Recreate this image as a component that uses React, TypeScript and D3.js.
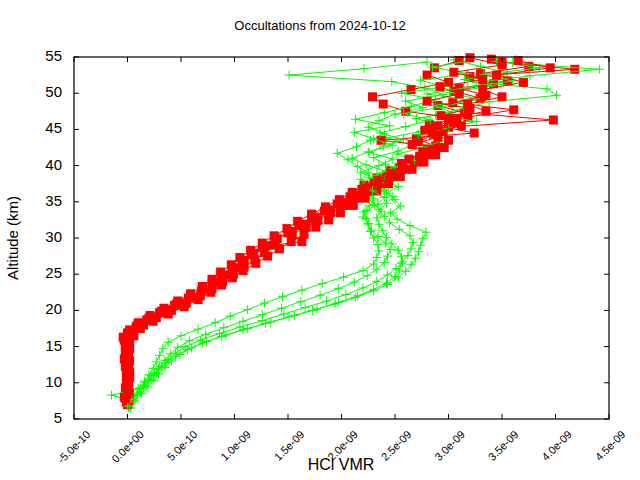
import React from "react";
import * as d3 from "d3";

const W = 640;
const H = 480;
const PLOT = { left: 74, right: 609, top: 57, bottom: 419 };

const TITLE = "Occultations from 2024-10-12";
const X_LABEL = "HCl VMR";
const Y_LABEL = "Altitude (km)";

const X_TICKS = [-5e-10, 0, 5e-10, 1e-9, 1.5e-9, 2e-9, 2.5e-9, 3e-9, 3.5e-9, 4e-9, 4.5e-9];
const X_TICK_LABELS = ["-5.0e-10", "0.0e+00", "5.0e-10", "1.0e-09", "1.5e-09", "2.0e-09", "2.5e-09", "3.0e-09", "3.5e-09", "4.0e-09", "4.5e-09"];
const Y_TICKS = [5, 10, 15, 20, 25, 30, 35, 40, 45, 50, 55];

// [altitude km, HCl VMR in units of 1e-10]
const green1: [number, number][] = [[6.6,0.1],[7.5,0.3],[8.4,0.9],[9.3,1.2],[10.2,1.6],[11.1,2.0],[12.0,2.4],[12.9,2.7],[13.8,3.0],[14.7,3.3],[15.6,3.8],[16.5,5.0],[17.4,6.6],[18.3,8.2],[19.2,9.6],[20.1,11.2],[21.0,12.8],[21.9,14.5],[22.8,16.3],[23.7,18.2],[24.6,20.2],[25.5,22.0],[26.4,23.0],[27.3,23.3],[28.2,23.5],[29.1,23.4],[30.0,23.0],[30.9,22.7],[31.8,22.5],[32.7,22.3],[33.6,22.1],[34.5,22.6],[35.4,23.0],[36.3,22.7],[37.2,22.2],[38.1,21.8],[39.0,22.5],[39.9,21.5],[40.8,20.6],[41.7,19.6],[42.6,21.4],[43.5,22.7],[44.4,24.0],[45.3,22.5],[46.2,23.5],[47.1,25.0],[48.0,27.6],[48.9,26.0],[49.8,29.5],[50.7,27.8],[51.6,24.7],[52.5,15.1],[53.4,22.1],[54.3,28.0]];
const green2: [number, number][] = [[6.9,0.0],[7.8,0.5],[8.7,1.2],[9.6,1.7],[10.5,2.2],[11.4,2.7],[12.3,3.2],[13.2,3.8],[14.1,4.5],[15.0,5.4],[15.9,6.8],[16.8,8.6],[17.7,10.5],[18.6,12.6],[19.5,14.6],[20.4,16.6],[21.3,18.6],[22.2,20.4],[23.1,22.0],[24.0,23.3],[24.9,24.3],[25.8,25.1],[26.7,25.7],[27.6,26.2],[28.5,26.5],[29.4,26.7],[30.3,26.4],[31.2,25.4],[32.1,24.5],[33.0,24.0],[33.9,23.5],[34.8,24.2],[35.7,24.8],[36.6,24.0],[37.5,23.2],[38.4,24.4],[39.3,25.6],[40.2,24.1],[41.1,23.0],[42.0,25.3],[42.9,26.6],[43.8,24.2],[44.7,27.4],[45.6,29.0],[46.5,27.0],[47.4,30.3],[48.3,28.6],[49.2,32.5],[50.1,30.2],[51.0,34.0],[51.9,31.5],[52.8,35.5],[53.7,33.0],[54.6,30.5]];
const green3: [number, number][] = [[6.5,0.3],[7.4,0.6],[8.3,-1.5],[9.2,1.0],[10.1,1.6],[11.0,2.2],[11.9,2.9],[12.8,3.6],[13.7,4.5],[14.6,5.6],[15.5,7.0],[16.4,8.8],[17.3,10.8],[18.2,12.9],[19.1,15.1],[20.0,17.3],[20.9,19.4],[21.8,21.3],[22.7,23.0],[23.6,24.3],[24.5,25.3],[25.4,26.0],[26.3,26.5],[27.2,26.9],[28.1,27.2],[29.0,27.4],[29.9,27.6],[30.8,27.9],[31.7,26.4],[32.6,25.2],[33.5,24.6],[34.4,25.5],[35.3,25.0],[36.2,24.2],[37.1,25.3],[38.0,24.0],[38.9,23.3],[39.8,25.0],[40.7,26.8],[41.6,25.2],[42.5,27.6],[43.4,29.4],[44.3,27.2],[45.2,30.0],[46.1,32.6],[47.0,28.8],[47.9,31.4],[48.8,33.8],[49.7,40.1],[50.6,39.2],[51.5,32.6],[52.4,37.6],[53.3,44.1],[54.2,36.0]];
const green4: [number, number][] = [[6.7,0.2],[7.6,0.7],[8.5,1.3],[9.4,1.9],[10.3,2.4],[11.2,2.9],[12.1,3.5],[13.0,4.1],[13.9,4.9],[14.8,6.0],[15.7,7.4],[16.6,9.2],[17.5,11.2],[18.4,13.4],[19.3,15.6],[20.2,17.7],[21.1,19.7],[22.0,21.5],[22.9,23.0],[23.8,24.2],[24.7,25.0],[25.6,25.4],[26.5,25.6],[27.4,25.6],[28.3,25.3],[29.2,24.7],[30.1,24.2],[31.0,23.8],[31.9,23.5],[32.8,23.3],[33.7,23.7],[34.6,23.1],[35.5,22.5],[36.4,23.6],[37.3,24.4],[38.2,23.0],[39.1,21.8],[40.0,23.5],[40.9,24.8],[41.8,22.6],[42.7,23.9],[43.6,25.8],[44.5,23.6],[45.4,26.0],[46.3,28.3],[47.2,25.8],[48.1,29.4],[49.0,32.0],[49.9,28.0],[50.8,31.8],[51.7,36.0],[52.6,33.3],[53.5,38.5],[54.4,34.5]];
const green5: [number, number][] = [[6.8,0.0],[7.7,0.4],[8.6,0.9],[9.5,1.5],[10.4,2.0],[11.3,2.5],[12.2,3.0],[13.1,3.5],[14.0,4.0],[14.9,4.7],[15.8,5.8],[16.7,7.3],[17.6,9.0],[18.5,10.8],[19.4,12.6],[20.3,14.4],[21.2,16.2],[22.1,18.0],[23.0,19.7],[23.9,21.2],[24.8,22.4],[25.7,23.3],[26.6,24.0],[27.5,24.3],[28.4,24.6],[29.3,24.1],[30.2,23.4],[31.1,22.8],[32.0,22.5],[32.9,22.0],[33.8,22.3],[34.7,23.4],[35.6,24.0],[36.5,22.9],[37.4,22.0],[38.3,22.6],[39.2,24.2],[40.1,22.3],[41.0,21.0],[41.9,22.5],[42.8,24.8],[43.7,23.0],[44.6,21.2],[45.5,24.5],[46.4,21.3],[47.3,24.0],[48.2,26.5],[49.1,28.8],[50.0,25.6],[50.9,29.6],[51.8,27.4],[52.7,31.8],[53.6,28.5],[54.5,32.0]];

const red1: [number, number][] = [[7.3,-0.1],[8.3,0.0],[9.3,-0.2],[10.3,0.0],[11.3,-0.1],[12.3,-0.2],[13.3,-0.3],[14.3,-0.1],[15.3,-0.2],[16.3,-0.4],[17.3,0.2],[18.3,1.0],[19.3,2.1],[20.3,3.4],[21.3,4.7],[22.3,5.9],[23.3,7.0],[24.3,7.9],[25.3,8.7],[26.3,9.7],[27.3,10.5],[28.3,11.5],[29.3,12.6],[30.3,13.7],[31.3,14.9],[32.3,15.9],[33.3,17.2],[34.3,18.5],[35.3,19.8],[36.3,21.0],[37.3,22.1],[38.3,23.3],[39.3,24.5],[40.3,25.6],[41.3,27.3],[42.3,28.0],[43.3,27.2],[44.3,28.6],[45.3,30.0],[46.3,39.8],[47.3,31.5],[48.3,29.0],[49.3,33.0],[50.3,30.5],[51.3,34.2],[52.3,32.0],[53.3,41.8],[54.3,35.0]];
const red2: [number, number][] = [[7.7,0.2],[8.7,0.1],[9.7,0.0],[10.7,0.2],[11.7,0.0],[12.7,0.1],[13.7,0.0],[14.7,0.2],[15.7,0.0],[16.7,0.3],[17.7,0.8],[18.7,1.8],[19.7,3.0],[20.7,4.4],[21.7,5.7],[22.7,6.9],[23.7,7.9],[24.7,8.8],[25.7,9.8],[26.7,10.7],[27.7,11.6],[28.7,12.6],[29.7,13.8],[30.7,15.0],[31.7,16.0],[32.7,17.2],[33.7,18.4],[34.7,19.6],[35.7,20.8],[36.7,21.9],[37.7,23.0],[38.7,24.2],[39.7,25.4],[40.7,26.8],[41.7,27.6],[42.7,28.8],[43.7,27.0],[44.7,29.5],[45.7,28.2],[46.7,31.8],[47.7,36.1],[48.7,30.4],[49.7,33.5],[50.7,31.0],[51.7,35.5],[52.7,33.0],[53.7,37.5],[54.7,34.0]];
const red3: [number, number][] = [[7.0,0.0],[8.0,-0.3],[9.0,0.1],[10.0,-0.1],[11.0,0.1],[12.0,-0.1],[13.0,0.2],[14.0,-0.2],[15.0,0.1],[16.0,0.0],[17.0,0.5],[18.0,1.5],[19.0,2.7],[20.0,4.1],[21.0,5.5],[22.0,6.8],[23.0,7.9],[24.0,8.9],[25.0,9.9],[26.0,10.9],[27.0,11.9],[28.0,12.8],[29.0,13.6],[29.5,16.3],[30.5,15.4],[31.5,16.7],[32.5,17.8],[33.5,19.0],[34.5,20.4],[35.5,21.5],[36.5,22.6],[37.5,23.8],[38.5,25.0],[39.5,26.2],[40.5,27.4],[41.5,28.8],[42.5,29.6],[43.5,23.7],[44.5,32.4],[45.5,29.0],[46.5,30.8],[47.5,26.0],[48.5,23.9],[49.5,22.9],[50.5,26.5],[51.5,30.0],[52.5,28.0],[53.5,28.7],[54.5,31.0]];
const red4: [number, number][] = [[7.5,0.1],[8.5,0.2],[9.5,0.1],[10.5,-0.1],[11.5,0.2],[12.5,0.0],[13.5,0.1],[14.5,0.0],[15.5,0.2],[16.5,0.6],[17.5,1.2],[18.5,2.4],[19.5,3.8],[20.5,5.3],[21.5,6.6],[22.5,7.8],[23.5,8.8],[24.5,9.8],[25.5,10.8],[26.5,12.0],[27.5,13.1],[28.5,14.2],[29.5,15.3],[30.5,16.5],[31.5,17.6],[32.5,18.8],[33.5,19.9],[34.5,21.1],[35.5,22.2],[36.5,23.3],[37.5,24.4],[38.5,25.5],[39.5,26.6],[40.5,27.7],[41.5,28.4],[42.5,29.2],[43.5,30.0],[44.5,28.5],[45.5,31.2],[46.5,30.0],[47.5,33.5],[48.5,31.8],[49.5,35.0],[50.5,33.2],[51.5,37.0],[52.5,34.5],[53.5,39.5],[54.5,36.5]];
const red5: [number, number][] = [[7.9,-0.2],[8.9,0.0],[9.9,0.1],[10.9,0.0],[11.9,-0.1],[12.9,0.1],[13.9,-0.1],[14.9,-0.2],[15.9,-0.3],[16.9,0.0],[17.9,0.9],[18.9,2.0],[19.9,3.2],[20.9,4.6],[21.9,5.9],[22.9,7.0],[23.9,8.1],[24.9,9.0],[25.9,10.0],[26.9,10.9],[27.9,11.8],[28.9,12.9],[29.9,14.0],[30.9,15.2],[31.9,16.4],[32.9,17.5],[33.9,18.8],[34.9,20.0],[35.9,21.1],[36.9,22.2],[37.9,23.4],[38.9,24.6],[39.9,25.7],[40.9,26.3],[41.9,27.6],[42.9,26.6],[43.9,29.0],[44.9,27.8],[45.9,30.6],[46.9,29.3],[47.9,32.0],[48.9,28.0],[49.9,31.0],[50.9,29.2],[51.9,33.2],[52.9,30.5],[53.9,35.0],[54.9,32.0]];

const GREEN_PROFILES = [green1, green2, green3, green4, green5];
const RED_PROFILES = [red1, red2, red3, red4, red5];
const VMR_UNIT = 1e-10;

const GREEN = "#00ff00";
const RED = "#ff0000";
const FONT = "'Liberation Sans', Arial, sans-serif";

export default function App() {
  const x = d3.scaleLinear().domain([-5e-10, 4.5e-9]).range([PLOT.left, PLOT.right]);
  const y = d3.scaleLinear().domain([5, 55]).range([PLOT.bottom, PLOT.top]);
  const line = d3
    .line<[number, number]>()
    .x((d) => x(d[1] * VMR_UNIT))
    .y((d) => y(d[0]));

  const layers: React.ReactNode[] = [];
  GREEN_PROFILES.forEach((g, i) => {
    layers.push(
      <g key={"g" + i}>
        <path d={line(g) || ""} fill="none" stroke={GREEN} strokeWidth={1} clipPath="url(#plotclip)" />
        {g.map((d, j) => {
          const cx = x(d[1] * VMR_UNIT);
          const cy = y(d[0]);
          return (
            <path key={j} d={`M${cx - 4.5},${cy}H${cx + 4.5}M${cx},${cy - 4.5}V${cy + 4.5}`} stroke={GREEN} strokeWidth={1} />
          );
        })}
      </g>
    );
    const r = RED_PROFILES[i];
    layers.push(
      <g key={"r" + i}>
        <path d={line(r) || ""} fill="none" stroke={RED} strokeWidth={1} clipPath="url(#plotclip)" />
        {r.map((d, j) => (
          <rect key={j} x={x(d[1] * VMR_UNIT) - 4.5} y={y(d[0]) - 4.5} width={9} height={9} fill={RED} />
        ))}
      </g>
    );
  });

  return (
    <svg width={W} height={H} style={{ position: "absolute", left: 0, top: 0, background: "#fff" }} fontFamily={FONT}>
      <rect x={0} y={0} width={W} height={H} fill="#fff" />
      <defs>
        <clipPath id="plotclip">
          <rect x={PLOT.left} y={PLOT.top} width={PLOT.right - PLOT.left} height={PLOT.bottom - PLOT.top} />
        </clipPath>
      </defs>
      {layers}
      <rect x={PLOT.left} y={PLOT.top} width={PLOT.right - PLOT.left} height={PLOT.bottom - PLOT.top} fill="none" stroke="#000" strokeWidth={1.2} />
      {X_TICKS.map((t, i) => (
        <g key={"xt" + i}>
          <line x1={x(t)} x2={x(t)} y1={PLOT.bottom} y2={PLOT.bottom - 5} stroke="#000" />
          <line x1={x(t)} x2={x(t)} y1={PLOT.top} y2={PLOT.top + 5} stroke="#000" />
          <text
            transform={`translate(${x(t) + 15},${PLOT.bottom + 14}) rotate(-45)`}
            textAnchor="end"
            dominantBaseline="middle"
            fontSize={11}
            fill="#000"
          >
            {X_TICK_LABELS[i]}
          </text>
        </g>
      ))}
      {Y_TICKS.map((t) => (
        <g key={"yt" + t}>
          <line x1={PLOT.left} x2={PLOT.left + 5} y1={y(t)} y2={y(t)} stroke="#000" />
          <line x1={PLOT.right} x2={PLOT.right - 5} y1={y(t)} y2={y(t)} stroke="#000" />
          <text x={62} y={y(t)} textAnchor="end" dominantBaseline="middle" fontSize={15} fill="#000">
            {t}
          </text>
        </g>
      ))}
      <text x={320} y={27} textAnchor="middle" dominantBaseline="middle" fontSize={13} fill="#000">
        {TITLE}
      </text>
      <text x={341} y={466} textAnchor="middle" dominantBaseline="middle" fontSize={16} fill="#000">
        {X_LABEL}
      </text>
      <text transform={`translate(14,238) rotate(-90)`} textAnchor="middle" dominantBaseline="middle" fontSize={15} fill="#000">
        {Y_LABEL}
      </text>
    </svg>
  );
}
